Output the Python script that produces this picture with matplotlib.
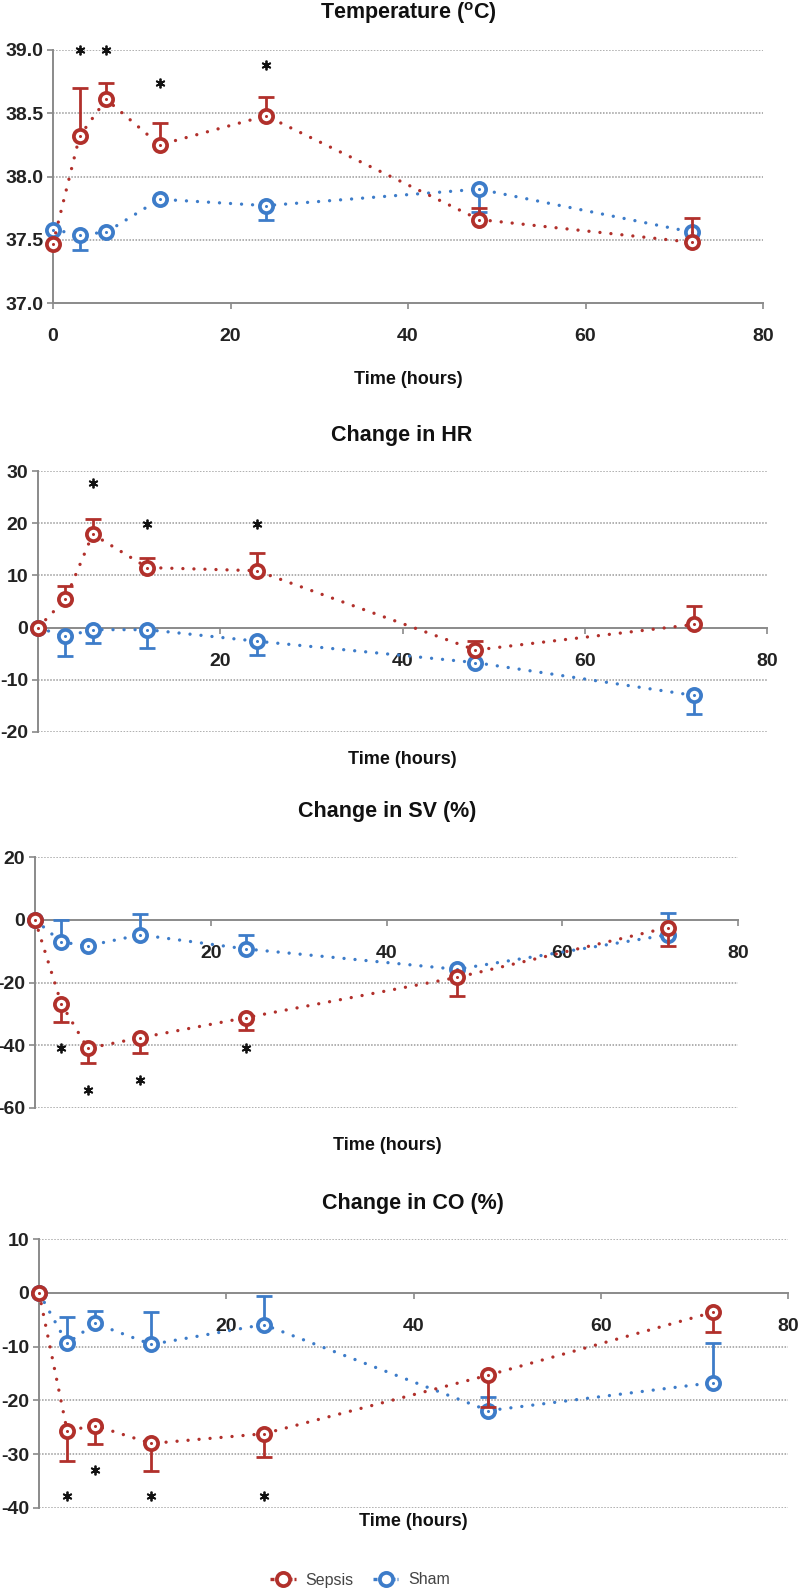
import matplotlib
matplotlib.use("Agg")
import matplotlib.pyplot as plt
from matplotlib.lines import Line2D
import numpy as np

plt.rcParams['font.family'] = ['Liberation Sans', 'DejaVu Sans']
plt.rcParams['axes.unicode_minus'] = False
plt.rcParams['mathtext.fontset'] = 'custom'
plt.rcParams['mathtext.rm'] = 'Liberation Sans'
plt.rcParams['mathtext.bf'] = 'Liberation Sans:bold'

# ---------------- data ----------------
time = [0, 3, 6, 12, 24, 48, 72]

sepsis_temp = [37.47, 38.32, 38.61, 38.25, 38.48, 37.66, 37.48]
sepsis_temp_err = [0, 0.38, 0.13, 0.17, 0.15, 0.09, 0.19]
sham_temp = [37.58, 37.54, 37.56, 37.82, 37.77, 37.90, 37.56]
sham_temp_err = [0, 0.12, 0, 0, 0.11, 0.18, 0]
temp_star_t = [3, 6, 12, 24]
temp_star_y = [39.0, 39.0, 38.74, 38.88]

sepsis_hr = [0, 5.4, 17.9, 11.5, 10.9, -4.3, 0.6]
sepsis_hr_err = [0, 2.5, 2.9, 1.9, 3.4, 1.8, 3.6]
sham_hr = [0, -1.7, -0.4, -0.4, -2.6, -6.7, -13.0]
sham_hr_err = [0, 3.7, 2.6, 3.6, 2.7, 0, 3.6]
hr_star_t = [6, 12, 24]
hr_star_y = [27.7, 19.9, 19.9]

sepsis_sv = [0, -26.8, -41.0, -37.6, -31.2, -18.4, -2.5]
sepsis_sv_err = [0, 5.9, 4.6, 4.8, 4.0, 5.8, 6.0]
sham_sv = [0, -7.1, -8.3, -4.8, -9.3, -15.8, -4.8]
sham_sv_err = [0, 7.1, 0, 6.7, 4.4, 0, 6.8]
sv_star_t = [3, 6, 12, 24]
sv_star_y = [-41.0, -54.3, -51.0, -41.0]

sepsis_co = [0, -25.6, -24.7, -28.0, -26.2, -15.3, -3.6]
sepsis_co_err = [0, 5.6, 3.4, 5.2, 4.4, 6.0, 3.7]
sham_co = [0, -9.4, -5.7, -9.6, -5.9, -21.9, -16.7]
sham_co_err = [0, 4.9, 2.4, 6.1, 5.3, 2.6, 7.3]
co_star_t = [3, 6, 12, 24]
co_star_y = [-37.8, -32.9, -37.8, -37.8]

titles = ['Temperature ($^{\\mathbf{o}}$C)', 'Change in HR', 'Change in SV (%)', 'Change in CO (%)']
xlabel = 'Time (hours)'
series_names = ['Sepsis', 'Sham']

# ---------------- style ----------------
RED = '#b1302b'
BLUE = '#3d7cc9'
GREY = '#8a8a8a'
W, H = 800, 1590
DOT = (0, (0.01, 3.3))

fig = plt.figure(figsize=(W / 100, H / 100), dpi=100)


def rect(L, R, T, B):
    return [L / W, 1 - B / H, (R - L) / W, (B - T) / H]


def fpos(x, y):
    return x / W, 1 - y / H


def draw_series(ax, t, y, err, direction, color, z):
    t = np.asarray(t, float)
    y = np.asarray(y, float)
    err = np.asarray(err, float)
    ax.plot(t, y, color=color, lw=2.4, linestyle=DOT,
            dash_capstyle='round', zorder=z, clip_on=False)
    m = err > 0
    ends = y + direction * err
    ax.vlines(t[m], y[m], ends[m], color=color, lw=2.0, zorder=z + 0.1, clip_on=False)
    ax.plot(t[m], ends[m], linestyle='none', marker='_', markersize=12,
            markeredgewidth=2.0, color=color, zorder=z + 0.1, clip_on=False)
    ax.plot(t, y, linestyle='none', marker='o', markersize=9.5, markeredgewidth=2.7,
            markeredgecolor=color, markerfacecolor='white', zorder=z + 0.2, clip_on=False)
    ax.plot(t, y, linestyle='none', marker='o', markersize=2.2, markeredgewidth=0,
            color=color, zorder=z + 0.3, clip_on=False)


panels = [
    dict(r=rect(53, 763, 50, 303), ylim=(37.0, 39.0), yt=[37.0, 37.5, 38.0, 38.5, 39.0], fmt='{:.1f}',
         xaxis_at=37.0, xt=[0, 20, 40, 60, 80],
         s=(sepsis_temp, sepsis_temp_err, 1), h=(sham_temp, sham_temp_err, -1),
         st=(temp_star_t, temp_star_y), title_xy=(408, 13), xl_xy=(408, 380)),
    dict(r=rect(38, 767, 471, 732), ylim=(-20, 30), yt=[-20, -10, 0, 10, 20, 30], fmt='{:.0f}',
         xaxis_at=0, xt=[20, 40, 60, 80],
         s=(sepsis_hr, sepsis_hr_err, 1), h=(sham_hr, sham_hr_err, -1),
         st=(hr_star_t, hr_star_y), title_xy=(402, 435), xl_xy=(402, 759)),
    dict(r=rect(35, 738, 857, 1108), ylim=(-60, 20), yt=[-60, -40, -20, 0, 20], fmt='{:.0f}',
         xaxis_at=0, xt=[20, 40, 60, 80],
         s=(sepsis_sv, sepsis_sv_err, -1), h=(sham_sv, sham_sv_err, 1),
         st=(sv_star_t, sv_star_y), title_xy=(387, 812), xl_xy=(387, 1146)),
    dict(r=rect(39, 788, 1239, 1508), ylim=(-40, 10), yt=[-40, -30, -20, -10, 0, 10], fmt='{:.0f}',
         xaxis_at=0, xt=[20, 40, 60, 80],
         s=(sepsis_co, sepsis_co_err, -1), h=(sham_co, sham_co_err, 1),
         st=(co_star_t, co_star_y), title_xy=(413, 1203), xl_xy=(413, 1521)),
]

for i, p in enumerate(panels):
    ax = fig.add_axes(p['r'])
    ax.set_xlim(0, 80)
    ax.set_ylim(*p['ylim'])
    for sp in ['top', 'right']:
        ax.spines[sp].set_visible(False)
    ax.spines['left'].set_color(GREY)
    ax.spines['bottom'].set_color(GREY)
    ax.spines['left'].set_linewidth(1.4)
    ax.spines['bottom'].set_linewidth(1.4)
    ax.spines['bottom'].set_position(('data', p['xaxis_at']))
    ax.spines['bottom'].set_zorder(1)
    ax.set_yticks(p['yt'])
    ax.set_yticklabels([p['fmt'].format(v) for v in p['yt']])
    ax.set_xticks(p['xt'])
    ax.set_xticklabels([str(v) for v in p['xt']])
    ax.tick_params(axis='y', direction='out', length=4, width=1.2, color=GREY, pad=3,
                   labelsize=14, labelcolor='#222222')
    ax.tick_params(axis='x', direction='out', length=4, width=1.2, color=GREY, pad=14,
                   labelsize=14, labelcolor='#222222')
    for lab in ax.get_xticklabels() + ax.get_yticklabels():
        lab.set_fontweight('bold')
    # dotted grid
    for v in p['yt']:
        if v != p['xaxis_at']:
            ax.axhline(v, color='#9a9a9a', lw=1.1, linestyle=(0, (1, 1)), zorder=0.5)
    ax.patch.set_visible(False)

    sy, se, sd = p['s']
    hy, he, hd = p['h']
    draw_series(ax, time, hy, he, hd, BLUE, 3)
    draw_series(ax, time, sy, se, sd, RED, 4)
    ax.plot(p['st'][0], p['st'][1], linestyle='none', marker=(6, 2, 0), markersize=7,
            markeredgewidth=1.3, color='#111111', zorder=6, clip_on=False)

    fig.text(*fpos(*p['title_xy']), titles[i], ha='center', va='center',
             fontsize=15.5, fontweight='bold', color='#111111')
    fig.text(*fpos(*p['xl_xy']), xlabel, ha='center', va='center',
             fontsize=13, fontweight='bold', color='#111111')

handles = [
    Line2D([], [], color=RED, lw=2.4, linestyle=(0, (1.2, 0.6)),
           marker='o', markersize=9.5, markeredgewidth=2.7, markerfacecolor='white'),
    Line2D([], [], color=BLUE, lw=2.4, linestyle=(0, (1.2, 0.6)),
           marker='o', markersize=9.5, markeredgewidth=2.7, markerfacecolor='white'),
]
fig.legend(handles, series_names, loc='center', bbox_to_anchor=fpos(360, 1580), ncol=2,
           frameon=False, fontsize=11.5, handlelength=1.6, columnspacing=1.2,
           handletextpad=0.6, labelcolor='#444444')

fig.savefig('out.png', dpi=100)
